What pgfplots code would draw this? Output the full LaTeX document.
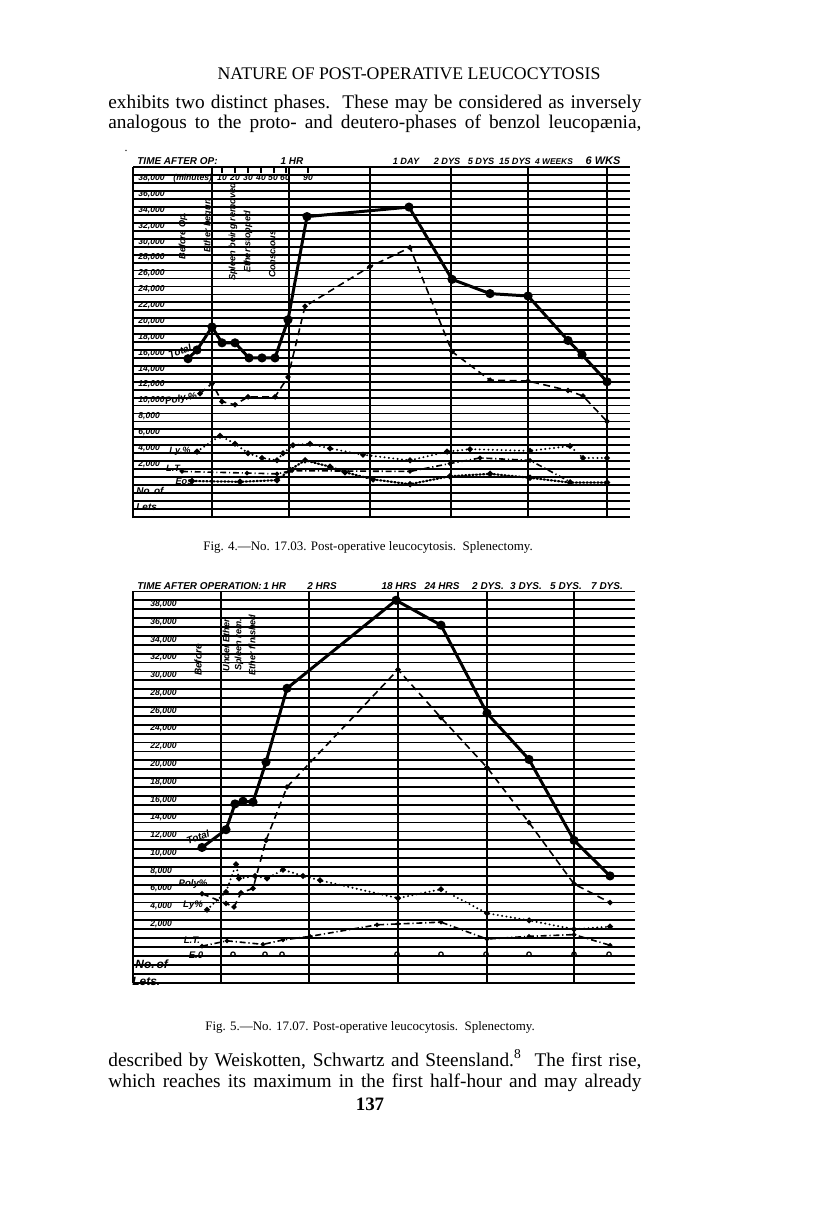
\documentclass[border=0pt]{standalone}
\usepackage{fontspec}
\setmainfont{Liberation Serif}
\setsansfont{Liberation Sans}
\usepackage{pgfplots}
\pgfplotsset{compat=1.18}

% handwritten-looking chart lettering
\newcommand{\hand}{\sffamily\bfseries\itshape}
\newcommand{\hs}[1]{\hand\fontsize{#1}{#1}\selectfont}

\pgfplotsset{
  chartgrid/.style={
    scale only axis,
    axis line style={draw=none},
    tick style={draw=none},
    xtick=\empty,
    extra x tick labels={},
    extra x tick style={grid=major, major grid style={black, line width=1.4pt}},
    ytick={2000,4000,...,38000},
    minor ytick={-4000,-3000,...,40000},
    ymajorgrids, yminorgrids,
    major grid style={black, line width=0.9pt},
    minor grid style={black, line width=0.9pt},
    scaled y ticks=false,
    /pgf/number format/assume math mode=true,
    yticklabel style={anchor=south west, inner sep=0.5pt, xshift=2bp,
      font=\hs{4.3}},
    clip=false,
  },
  total/.style={black, line width=1.5pt, mark=*, mark size=1.5pt},
  poly/.style={black, line width=0.8pt, dash pattern=on 3.5pt off 2.2pt,
    mark=*, mark size=0.9pt, mark options={solid}},
  lymph/.style={black, line width=1.1pt, line cap=round,
    dash pattern=on 0pt off 2.2pt, mark=*, mark size=0.8pt, mark options={solid}},
  lt/.style={black, line width=0.8pt, dash pattern=on 3pt off 1.4pt on 0.6pt off 1.4pt,
    mark=*, mark size=0.7pt, mark options={solid}},
  eos/.style={black, line width=1.1pt, line cap=round,
    dash pattern=on 0.6pt off 1.2pt, mark=*, mark size=0.9pt, mark options={solid}},
}

\begin{document}
\begin{tikzpicture}
\begin{scope}[x=0.5bp, y=-0.5bp]
  \path[use as bounding box] (0,0) rectangle (816,1225);
  \coordinate (A1) at (133,518.3);
  \coordinate (A2) at (133,982.6);

  % page text
  \node[anchor=base, inner sep=0, font=\fontsize{8.9}{10}\selectfont] at (409,80)
    {NATURE OF POST-OPERATIVE LEUCOCYTOSIS};
  \node[anchor=base west, inner sep=0, font=\fontsize{9.7}{11}\selectfont] at (108,109)
    {\makebox[266.5bp][s]{exhibits two distinct phases.\ \ These may be considered as inversely}};
  \node[anchor=base west, inner sep=0, font=\fontsize{9.7}{11}\selectfont] at (108,129)
    {\makebox[266.5bp][s]{analogous to the proto- and deutero-phases of benzol leucop\ae nia,}};
  \node[font=\fontsize{6}{6}\selectfont, inner sep=0] at (126,151) {.};

  \node[anchor=base, font=\fontsize{6.5}{7}\selectfont] at (368,550)
    {\textsc{Fig}. 4.---No. 17.03. Post-operative leucocytosis.\ \ Splenectomy.};
  \node[anchor=base, font=\fontsize{6.5}{7}\selectfont] at (370,1030)
    {\textsc{Fig}. 5.---No. 17.07. Post-operative leucocytosis.\ \ Splenectomy.};

  \node[anchor=base west, inner sep=0, font=\fontsize{9.7}{11}\selectfont] at (108,1066)
    {\makebox[266.5bp][s]{described by Weiskotten, Schwartz and Steensland.\textsuperscript{8}\ \ The first rise,}};
  \node[anchor=base west, inner sep=0, font=\fontsize{9.7}{11}\selectfont] at (108,1087)
    {\makebox[266.5bp][s]{which reaches its maximum in the first half-hour and may already}};
  \node[anchor=base, font=\fontsize{9.5}{10}\selectfont\bfseries] at (370,1110) {137};

  % chart 1 lettering
  \begin{scope}[every node/.style={inner sep=0.5pt}]
  \node[anchor=base west, font=\hs{5}] at (136,165) {TIME AFTER OP:};
  \node[anchor=base, font=\hs{5}] at (292,165) {1 HR};
  \node[anchor=base, font=\hs{4.6}] at (406,165) {1 DAY};
  \node[anchor=base, font=\hs{4.6}] at (447,165) {2 DYS};
  \node[anchor=base, font=\hs{4.6}] at (481,165) {5 DYS};
  \node[anchor=base, font=\hs{4.6}] at (515,165) {15 DYS};
  \node[anchor=base, font=\hs{4.2}] at (554,165) {4 WEEKS};
  \node[anchor=base, font=\hs{5.5}] at (603,165) {6 WKS};
  \node[anchor=base west, font=\hs{4.3}] at (172,181) {(minutes)};
  \foreach \m/\xx in {10/222,20/235,30/248,40/261,50/273,60/285,90/308}
    \node[anchor=base, font=\hs{4.3}] at (\xx,181) {\m};
  \foreach \xx in {222,235,248,261,274,286,308}
    \draw[line width=0.6pt] (\xx,168) -- (\xx,173);
  \node[rotate=90, font=\hs{4.6}] at (183,236) {Before Op.};
  \node[rotate=90, font=\hs{4.6}] at (208,226) {Ether begun};
  \node[rotate=90, font=\hs{4.6}] at (233,232) {Spleen being removed};
  \node[rotate=90, font=\hs{4.6}] at (248,242) {Ether stopped};
  \node[rotate=90, font=\hs{4.6}] at (272,254) {Conscious};
  \node[rotate=20, font=\hs{5}] at (180,351) {Total};
  \node[rotate=10, font=\hs{5}] at (181,399) {Poly.\%};
  \node[font=\hs{4.6}] at (180,451) {Ly.\%};
  \node[font=\hs{4.6}] at (174,468) {L.T.};
  \node[font=\hs{4.6}] at (184,481) {Eos};
  \node[anchor=west, font=\hs{5}] at (135,491) {No.\,of};
  \node[anchor=west, font=\hs{5}] at (135,507) {Lets};

  % chart 2 lettering
  \node[anchor=base west, font=\hs{5}] at (136,589) {TIME AFTER OPERATION:\,1 HR};
  \node[anchor=base, font=\hs{5}] at (322,589) {2 HRS};
  \node[anchor=base, font=\hs{5}] at (399,589) {18 HRS};
  \node[anchor=base, font=\hs{5}] at (442,589) {24 HRS};
  \node[anchor=base, font=\hs{5}] at (488,589) {2 DYS.};
  \node[anchor=base, font=\hs{5}] at (526,589) {3 DYS.};
  \node[anchor=base, font=\hs{5}] at (566,589) {5 DYS.};
  \node[anchor=base, font=\hs{5}] at (607,589) {7 DYS.};
  \node[rotate=90, font=\hs{5}] at (198,660) {Before};
  \node[rotate=90, font=\hs{4.6}] at (226,645) {Under Ether};
  \node[rotate=90, font=\hs{4.6}] at (239,645) {Spleen rem.};
  \node[rotate=90, font=\hs{4.6}] at (252,645) {Ether finished};
  \node[rotate=20, font=\hs{5}] at (198,837) {Total};
  \node[font=\hs{4.8}] at (193,884) {Poly\%};
  \node[font=\hs{4.8}] at (193,905) {Ly\%};
  \node[font=\hs{4.8}] at (192,940) {L.T.};
  \node[font=\hs{4.8}] at (196,955) {E.0};
  \node[anchor=west, font=\hs{6}] at (134,964) {No.\,of};
  \node[anchor=west, font=\hs{6}] at (131,981) {Lets.};
  \end{scope}
\end{scope}

% ---------- Fig. 4 ----------
\begin{axis}[chartgrid, at={(A1)}, anchor=south west,
  width=248.5bp, height=175.45bp,
  xmin=133, xmax=630, ymin=-4200, ymax=40000,
  extra x ticks={133,212,289,370,451,528,607}]
\addplot[total] coordinates {
  (188,15900) (197,17000) (212,19900) (222,17900) (235,17900) (249,16000)
  (262,16000) (275,16000) (288,20800) (307,33800) (409,35000) (452,25900)
  (490,24100) (528,23800) (568,18200) (582,16400) (607,13000)};
\addplot[poly] coordinates {
  (200,11500) (212,12800) (222,10500) (235,10100) (248,11100) (275,11100)
  (288,13600) (305,22500) (370,27500) (410,29900) (452,16800) (490,13200)
  (528,13100) (568,11900) (583,11200) (607,8000)};
\addplot[lymph] coordinates {
  (197,4200) (220,6200) (235,5200) (248,4000) (262,3400) (277,3100) (283,4000)
  (293,5000) (310,5200) (330,4600) (363,3800) (410,3100) (447,4200) (470,4500)
  (530,4300) (570,4900) (583,3400) (607,3400)};
\addplot[lt] coordinates {
  (182,1700) (247,1500) (277,1400) (292,1800) (410,1700) (450,2700) (480,3400)
  (530,3100) (570,400)};
\addplot[eos] coordinates {
  (192,500) (240,400) (277,600) (290,1900) (305,3100) (330,2300) (345,1600)
  (373,700) (410,100) (450,1100) (490,1400) (530,900) (570,300) (607,300)};
\end{axis}

% ---------- Fig. 5 ----------
\begin{axis}[chartgrid, at={(A2)}, anchor=south west,
  width=251bp, height=195.6bp,
  xmin=133, xmax=635, ymin=-4000, ymax=40000,
  extra x ticks={133,221,309,398,487,574},
  yticklabel style={xshift=6bp}]
\addplot[total] coordinates {
  (202,11200) (226,13200) (235,16100) (243,16400) (253,16300) (266,20800)
  (287,29100) (396,39000) (441,36200) (487,26300) (529,21100) (574,12000)
  (610,8000)};
\addplot[poly] coordinates {
  (202,6000) (226,4900) (234,4500) (241,6100) (253,6600) (266,12000)
  (287,18000) (398,31200) (441,25800) (487,20200) (529,14000) (574,7100)
  (610,5000)};
\addplot[lymph] coordinates {
  (207,4200) (226,6200) (236,9300) (239,7700) (255,8000) (267,7700) (283,8700)
  (303,8000) (320,7500) (398,5500) (441,6500) (487,3800) (529,3000) (574,2000)
  (610,2300)};
\addplot[lt] coordinates {
  (202,100) (227,700) (263,300) (283,800) (310,1200) (377,2500) (398,2600)
  (441,2800) (487,900) (529,1200) (574,1400) (610,200)};
\addplot[only marks, mark=o, mark size=1.1pt, black, line width=0.6pt] coordinates {
  (233,-800) (265,-800) (282,-800) (397,-800) (441,-800) (486,-800) (529,-800)
  (574,-800) (609,-800)};
\end{axis}
\end{tikzpicture}
\end{document}
